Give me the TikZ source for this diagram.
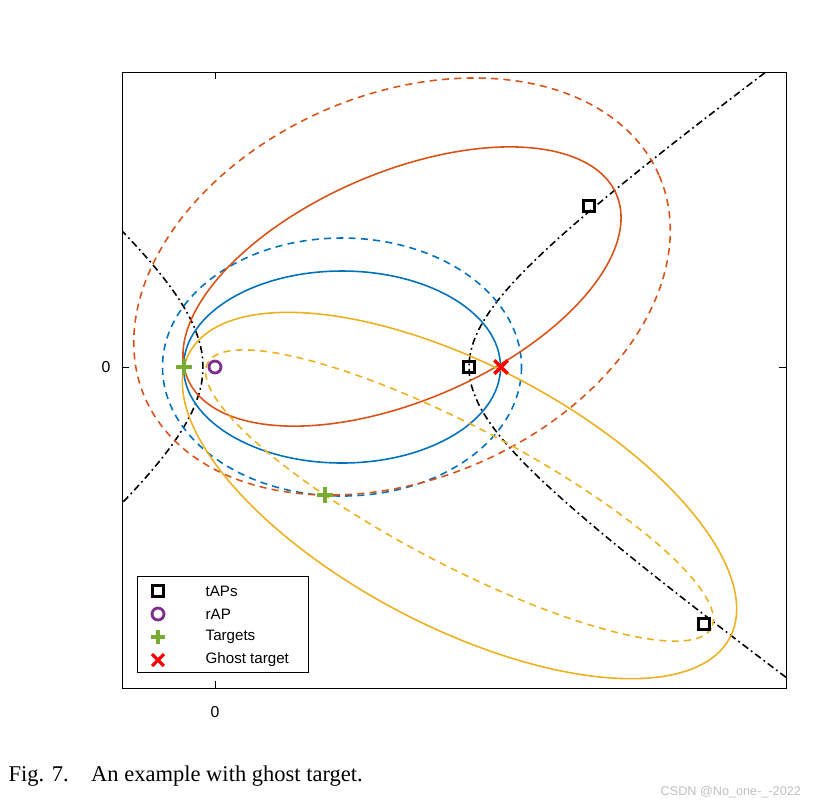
\documentclass[tikz,border=0pt]{standalone}
\usepackage{fontspec}
\setmainfont{Liberation Serif}
\setsansfont{Liberation Sans}
\begin{document}
\begin{tikzpicture}[x=0.01cm,y=-0.01cm,
  lw/.style={line width=0.45pt},
  mk/.style={line width=0.8pt},
  lab/.style={font=\sffamily\fontsize{4.3}{5}\selectfont,inner sep=0pt},
  dsh/.style={dash pattern=on 2pt off 1.5pt}]
\definecolor{cblue}{RGB}{0,114,189}
\definecolor{corange}{RGB}{217,83,25}
\definecolor{cyellow}{RGB}{237,177,32}
\definecolor{cgreen}{RGB}{119,172,48}
\definecolor{cpurple}{RGB}{126,47,142}
\useasboundingbox (0,0) rectangle (834,811);
\coordinate (axTL) at (122,72);
\coordinate (axBR) at (786,688);
\begin{scope}
\clip (axTL) rectangle (axBR);
% hyperbola
\draw[black,lw,dash pattern=on 2pt off 1pt on 0.5pt off 1pt] plot[domain=-2.3:2.3,samples=80,variable=\t] ({336+133*cosh(\t)},{367+96*sinh(\t)});
\draw[black,lw,dash pattern=on 2pt off 1pt on 0.5pt off 1pt] plot[domain=-2.2:2.2,samples=80,variable=\t] ({336-133*cosh(\t)},{367+108*sinh(\t)});
% blue
\draw[cblue,lw] (342,367) ellipse [x radius=158.5,y radius=96];
\draw[cblue,lw,dsh] (342,367) ellipse [x radius=179.5,y radius=129];
% orange
\draw[corange,lw] plot[domain=0:360,samples=120,smooth,variable=\t] ({402+233.4*cos(\t)*cos(-23.29)-114.1*sin(\t)*sin(-23.29)},{286.5+233.4*cos(\t)*sin(-23.29)+114.1*sin(\t)*cos(-23.29)}) -- cycle;
\draw[corange,lw,dsh] plot[domain=0:360,samples=120,smooth,variable=\t] ({402+280.1*cos(\t)*cos(-23.29)-192.4*sin(\t)*sin(-23.29)},{286.5+280.1*cos(\t)*sin(-23.29)+192.4*sin(\t)*cos(-23.29)}) -- cycle;
% yellow
\draw[cyellow,lw] plot[domain=0:360,samples=120,smooth,variable=\t] ({459.5+305.5*cos(\t)*cos(27.72)-130.6*sin(\t)*sin(27.72)},{495.5+305.5*cos(\t)*sin(27.72)+130.6*sin(\t)*cos(27.72)}) -- cycle;
\draw[cyellow,lw,dsh] plot[domain=0:360,samples=120,smooth,variable=\t] ({459.5+284.6*cos(\t)*cos(27.72)-68.6*sin(\t)*sin(27.72)},{495.5+284.6*cos(\t)*sin(27.72)+68.6*sin(\t)*cos(27.72)}) -- cycle;
\end{scope}
% axes
\draw[line width=0.25pt] (axTL) rectangle (axBR);
\draw[line width=0.25pt] (215,688) -- (215,681) (215,72) -- (215,79) (122,367) -- (129,367) (786,367) -- (779,367);
\node[lab,font=\sffamily\fontsize{4.5}{5}\selectfont] (xt) at (215,712) {0};
\node[lab,font=\sffamily\fontsize{4.5}{5}\selectfont] (yt) at (106,367) {0};
% markers
\foreach \n/\p in {t1/{(469,367)},t2/{(589,206)},t3/{(704,624)}}
  \node[draw=black,mk,minimum size=3pt,inner sep=0pt,fill=none] (\n) at \p {};
\node[draw=cpurple,mk,circle,minimum size=3.4pt,inner sep=0pt] (r1) at (215,367) {};
\foreach \n/\p in {g1/{(184,367)},g2/{(325,495)}}
  \node[inner sep=0pt,minimum size=4pt] (\n) at \p {} ;
\draw[cgreen,line width=1pt] (g1.west)--(g1.east) (g1.north)--(g1.south) (g2.west)--(g2.east) (g2.north)--(g2.south);
\node[inner sep=0pt,minimum size=3.4pt] (gh) at (501,367) {};
\draw[red,line width=1pt] (gh.north west)--(gh.south east) (gh.north east)--(gh.south west);
% legend
\draw[line width=0.25pt,fill=white] (137,576) rectangle (308,672);
\node[draw=black,mk,minimum size=3pt,inner sep=0pt] (l1) at (158,591) {};
\node[draw=cpurple,mk,circle,minimum size=3.4pt,inner sep=0pt] (l2) at (158,614) {};
\node[inner sep=0pt,minimum size=3.6pt] (l3) at (158,637) {};
\draw[cgreen,line width=1pt] (l3.west)--(l3.east) (l3.north)--(l3.south);
\node[inner sep=0pt,minimum size=3pt] (l4) at (158,660) {};
\draw[red,line width=0.9pt] (l4.north west)--(l4.south east) (l4.north east)--(l4.south west);
\node[lab,anchor=west] at (205,591) {tAPs};
\node[lab,anchor=west] at (205,614) {rAP};
\node[lab,anchor=west] at (205,637) {Targets};
\node[lab,anchor=west] at (205,660) {Ghost target};
% caption
\node[anchor=west,inner sep=0pt,font=\fontsize{6.4}{7}\selectfont] (cap) at (8,776) {Fig. 7.\quad An example with ghost target.};
\node[anchor=west,inner sep=0pt,text=black!25,font=\sffamily\fontsize{3.6}{4}\selectfont] (wm) at (660,792) {CSDN @No\_one-\_-2022};
\end{tikzpicture}
\end{document}
